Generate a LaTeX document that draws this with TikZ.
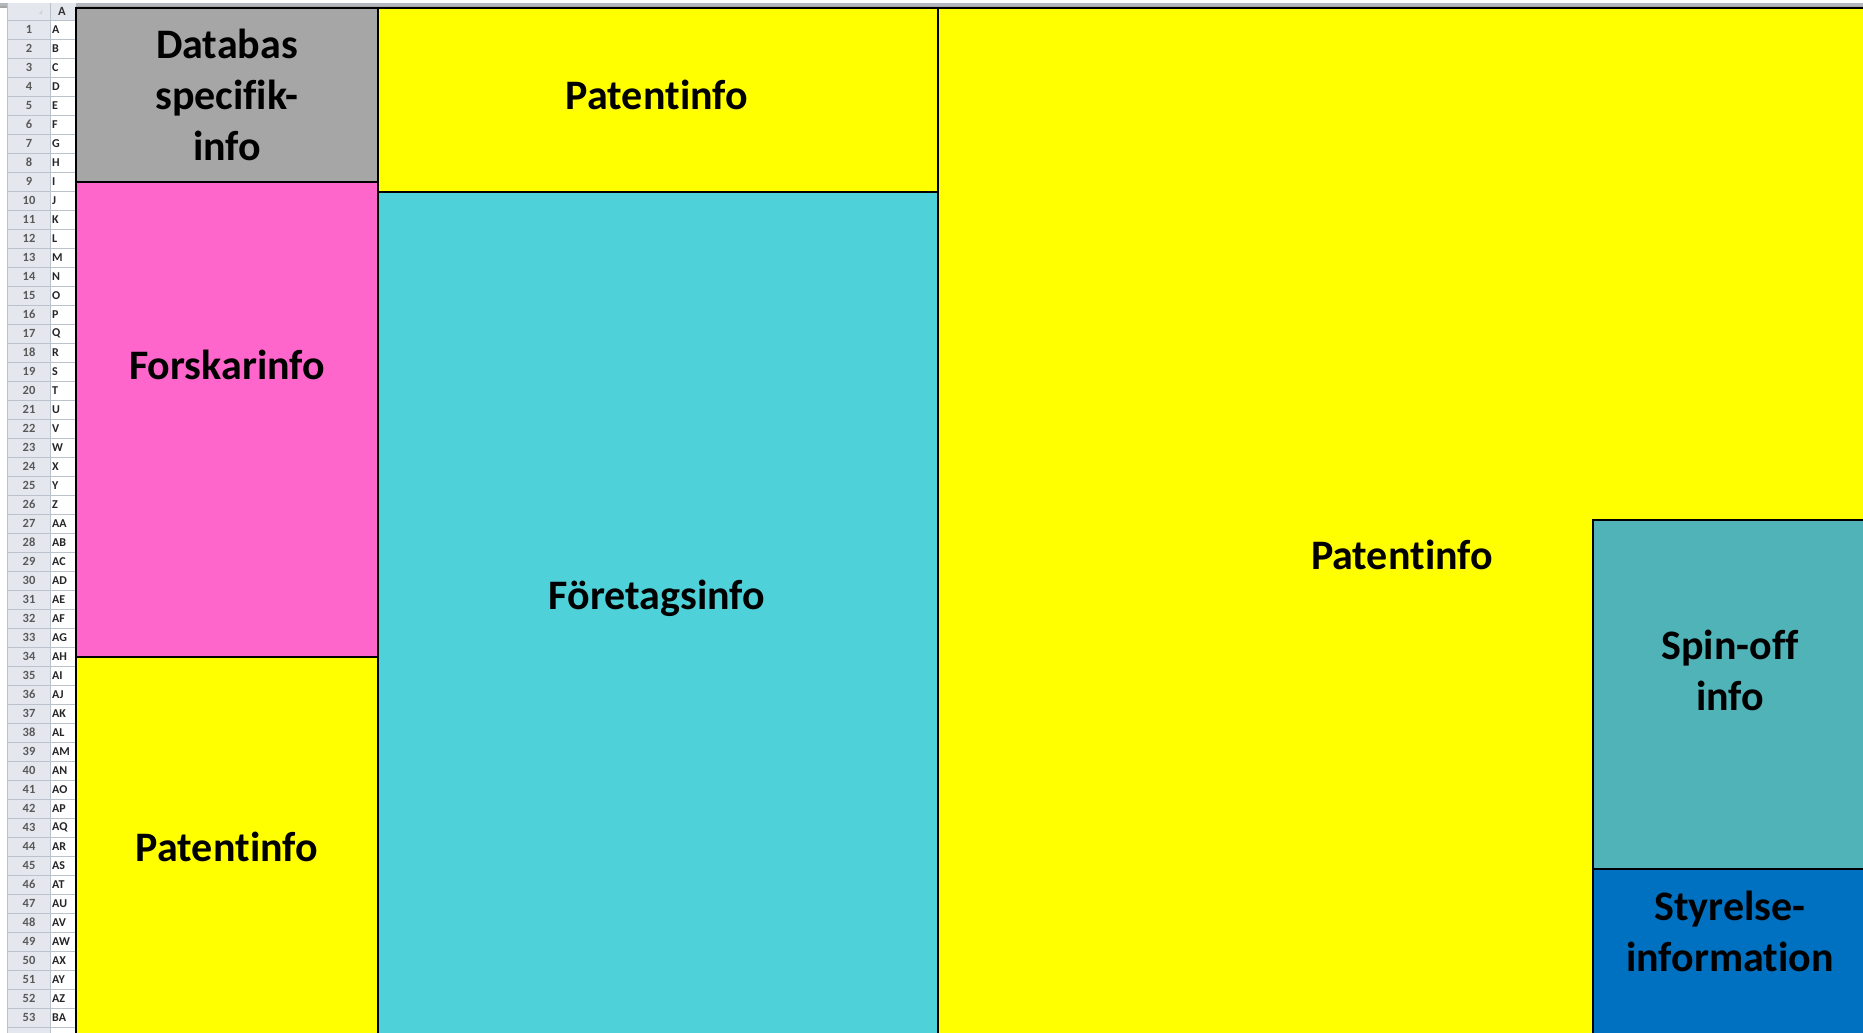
\documentclass[tikz,border=0pt]{standalone}
\usepackage{fontspec}
\setmainfont{Carlito}[Ligatures=CommonOff]
\definecolor{dbgray}{HTML}{A6A6A6}
\definecolor{fpink}{HTML}{FF66CC}
\definecolor{pyellow}{HTML}{FFFF00}
\definecolor{fcyan}{HTML}{4FD1D9}
\definecolor{steal}{HTML}{4FB3B8}
\definecolor{sblue}{HTML}{0070C0}
\definecolor{rowgray}{HTML}{E4E8EE}
\definecolor{gridc}{HTML}{BCC2CC}
\definecolor{topbar}{HTML}{B4B8BE}
\newcommand{\nlg}{\kern0pt}
\begin{document}
\begin{tikzpicture}[x=1pt,y=-1pt,
  box/.style={draw=black, line width=2.4pt},
  lbl/.style={font=\fontsize{42}{51}\selectfont\bfseries, align=center, text=black, inner sep=0pt},
  rown/.style={font=\fontsize{12.5}{12.5}\selectfont\bfseries, text=black!65, inner sep=0pt},
  cola/.style={font=\fontsize{12}{12}\selectfont\bfseries, text=black!85, anchor=west, inner sep=0pt},
]
\useasboundingbox (0,0) rectangle (1863,1033);
\begin{scope}
\clip (0,0) rectangle (1863,1033);
\fill[white] (0,0) rectangle (1863,1033);
% top bar of the sheet
\fill[topbar] (0,3) rectangle (1863,8);
\fill[gray!70] (0,6.5) rectangle (1863,8);
% row header column and column A
\fill[rowgray] (7,3) rectangle (50,1040);
\fill[rowgray] (50,3) rectangle (76,20);
\fill[white] (50,20) rectangle (76,1040);
\foreach \k in {0,...,54} {
  \draw[gridc, line width=0.8pt] (7,{20+19*\k}) -- (76,{20+19*\k});
}
\draw[gridc, line width=0.8pt] (7,3) -- (7,1040);
\draw[gridc, line width=0.8pt] (50,3) -- (50,1040);
\fill[gray!35] (39,14) -- (42,10) -- (42,14) -- cycle;
\node[rown, text=black!80] (hdA) at (62,11.5) {A};
\foreach \lab [count=\i] in {A,B,C,D,E,F,G,H,I,J,K,L,M,N,O,P,Q,R,S,T,U,V,W,X,Y,Z,AA,AB,AC,AD,AE,AF,AG,AH,AI,AJ,AK,AL,AM,AN,AO,AP,AQ,AR,AS,AT,AU,AV,AW,AX,AY,AZ,BA} {
  \node[rown] (r\i) at (29,{10.5+19*\i}) {\i};
  \node[cola] (c\i) at (52,{10.5+19*\i}) {\lab};
}
% coloured blocks
\draw[box, fill=dbgray] (76,8) rectangle (378,182);
\draw[box, fill=fpink] (76,182) rectangle (378,657);
\draw[box, fill=pyellow] (76,657) rectangle (378,1045);
\draw[box, fill=pyellow] (378,8) rectangle (938,192);
\draw[box, fill=fcyan] (378,192) rectangle (938,1045);
\draw[box, fill=pyellow] (938,8) rectangle (1875,1045);
\draw[box, fill=steal] (1593,520) rectangle (1875,869);
\draw[box, fill=sblue] (1593,869) rectangle (1875,1045);
\end{scope}
% labels
\node[lbl] (tdb) at (227,95) {Databas\\specifik-\\info};
\node[lbl] (tpatT) at (657,95) {Paten\nlg tinfo};
\node[lbl] (tforsk) at (227,365) {Forskarinfo};
\node[lbl] (tpatL) at (227,847) {Paten\nlg tinfo};
\node[lbl] (tforet) at (657,598) {Företagsinfo};
\node[lbl] (tpatB) at (1402,555) {Paten\nlg tinfo};
\node[lbl] (tspin) at (1730,670) {Spin-off\\info};
\node[lbl] (tstyr) at (1730,931) {Styrelse-\\informa\nlg tion};
\end{tikzpicture}
\end{document}
